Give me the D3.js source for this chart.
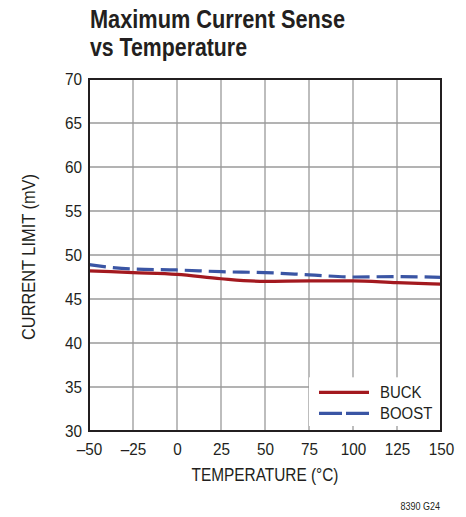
<!DOCTYPE html>
<html>
<head>
<meta charset="utf-8">
<script src="https://cdn.jsdelivr.net/npm/d3@7"></script>
<style>
  body { margin: 0; background: #fff; }
  text { font-family: "Liberation Sans", Arial, sans-serif; fill: #231f20; }
</style>
</head>
<body>
<div id="chart"></div>
<script>
var temps = [-50, -25, 0, 25, 50, 75, 100, 125, 150];
var buck  = [48.2, 48.0, 47.8, 47.3, 47.0, 47.05, 47.05, 46.85, 46.7];
var boost = [48.9, 48.4, 48.3, 48.1, 48.0, 47.75, 47.5, 47.55, 47.45];
var xTicks = [-50, -25, 0, 25, 50, 75, 100, 125, 150];
var yTicks = [30, 35, 40, 45, 50, 55, 60, 65, 70];
var seriesNames = ["BUCK", "BOOST"];

var margin = {top: 79, right: 25, bottom: 86, left: 89};
var W = 466, H = 517;
var width = W - margin.left - margin.right;
var height = H - margin.top - margin.bottom;
var narrow = 0.9;   // fake condensed face

var svg = d3.select("#chart").append("svg")
    .attr("width", W)
    .attr("height", H);

var g = svg.append("g")
    .attr("transform", "translate(" + margin.left + "," + margin.top + ")");

var x = d3.scaleLinear().domain([-50, 150]).range([0, width]);
var y = d3.scaleLinear().domain([30, 70]).range([height, 0]);

// grid
g.selectAll(".vgrid").data(xTicks.slice(1, -1)).enter().append("line")
    .attr("x1", d => x(d)).attr("x2", d => x(d))
    .attr("y1", 0).attr("y2", height)
    .attr("stroke", "#9a9a9a").attr("stroke-width", 1.3);
g.selectAll(".hgrid").data(yTicks.slice(1, -1)).enter().append("line")
    .attr("y1", d => y(d)).attr("y2", d => y(d))
    .attr("x1", 0).attr("x2", width)
    .attr("stroke", "#9a9a9a").attr("stroke-width", 1.3);

// lines
var line = d3.line()
    .x((d, i) => x(temps[i]))
    .y(d => y(d))
    .curve(d3.curveMonotoneX);

g.append("path").datum(boost)
    .attr("fill", "none")
    .attr("stroke", "#3a55a4")
    .attr("stroke-width", 3.2)
    .attr("stroke-dasharray", "17,7")
    .attr("d", line);

g.append("path").datum(buck)
    .attr("fill", "none")
    .attr("stroke", "#a3191f")
    .attr("stroke-width", 3.2)
    .attr("d", line);

// legend (white box hides grid)
var lx = x(75) - 1, ly = y(36.1);
var lg = g.append("g").attr("transform", "translate(" + lx + "," + ly + ")");
lg.append("rect").attr("x", 1).attr("y", 0)
    .attr("width", width - lx).attr("height", height - ly - 5)
    .attr("fill", "#fff");
lg.append("line").attr("x1", 11).attr("x2", 61).attr("y1", 15).attr("y2", 15)
    .attr("stroke", "#a3191f").attr("stroke-width", 3.2);
lg.append("line").attr("x1", 11).attr("x2", 61).attr("y1", 36).attr("y2", 36)
    .attr("stroke", "#3a55a4").attr("stroke-width", 3.2).attr("stroke-dasharray", "23,4");
lg.selectAll(".ltxt").data(seriesNames).enter().append("text")
    .attr("transform", (d, i) => "translate(72," + (21 + i * 21) + ") scale(0.88,1)")
    .style("font-size", "17px")
    .text(d => d);

// frame
g.append("rect").attr("width", width).attr("height", height)
    .attr("fill", "none").attr("stroke", "#231f20").attr("stroke-width", 2);

// axes
var xAxis = g.append("g")
    .attr("transform", "translate(0," + height + ")")
    .call(d3.axisBottom(x).tickValues(xTicks).tickSize(0).tickPadding(12)
        .tickFormat(d => d < 0 ? "\u2013" + Math.abs(d) : d));
xAxis.select(".domain").remove();
xAxis.selectAll("text")
    .style("font-size", "17px").attr("fill", "#231f20")
    .attr("transform", "scale(" + narrow + ",1)");

var yAxis = g.append("g")
    .call(d3.axisLeft(y).tickValues(yTicks).tickSize(0).tickPadding(7));
yAxis.select(".domain").remove();
yAxis.selectAll("text")
    .style("font-size", "17px").attr("fill", "#231f20")
    .attr("x", -7 / narrow)
    .attr("transform", "scale(" + narrow + ",1)");

// axis titles
svg.append("text")
    .attr("x", margin.left + width / 2).attr("y", 481)
    .attr("text-anchor", "middle").style("font-size", "18px")
    .attr("textLength", 147).attr("lengthAdjust", "spacingAndGlyphs")
    .text("TEMPERATURE (\u00b0C)");

svg.append("text")
    .attr("transform", "translate(35," + (margin.top + height / 2 + 2) + ") rotate(-90)")
    .attr("text-anchor", "middle").style("font-size", "18px")
    .attr("textLength", 166).attr("lengthAdjust", "spacingAndGlyphs")
    .text("CURRENT LIMIT (mV)");

// title
svg.append("text").attr("x", 90).attr("y", 28)
    .style("font-size", "25px").style("font-weight", "bold")
    .attr("textLength", 255).attr("lengthAdjust", "spacingAndGlyphs")
    .text("Maximum Current Sense");
svg.append("text").attr("x", 90).attr("y", 56)
    .style("font-size", "25px").style("font-weight", "bold")
    .attr("textLength", 157).attr("lengthAdjust", "spacingAndGlyphs")
    .text("vs Temperature");

svg.append("text").attr("x", 440).attr("y", 510)
    .attr("text-anchor", "end").style("font-size", "10px")
    .attr("transform", "translate(" + (440 * (1 - 0.9)) + ",0) scale(0.9,1)")
    .text("8390 G24");
</script>
</body>
</html>
